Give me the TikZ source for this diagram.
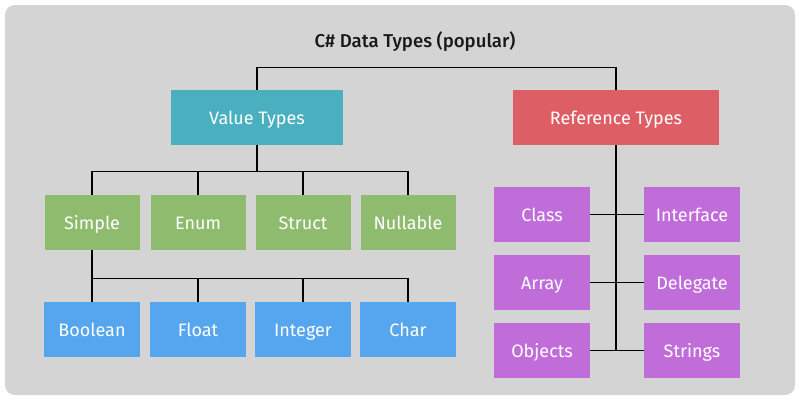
\documentclass[tikz,border=0pt]{standalone}
\usepackage{fontspec}
\setmainfont{Fira Sans}
\newfontfamily\titlefont{Fira Sans Medium}
\usetikzlibrary{positioning,calc}
\definecolor{bggray}{HTML}{D4D4D4}
\definecolor{valteal}{HTML}{4AAFBE}
\definecolor{refred}{HTML}{DD5F65}
\definecolor{kindgreen}{HTML}{8FBB6F}
\definecolor{simpleblue}{HTML}{55A6EE}
\definecolor{refpurple}{HTML}{C06DDA}
\tikzstyle{tbox} = [minimum height=55pt, inner sep=0pt, text height=17pt, text depth=4pt, text=white, font=\fontsize{18}{20}\selectfont]
\tikzstyle{valbox} = [tbox, fill=valteal, minimum width=172pt]
\tikzstyle{refbox} = [tbox, fill=refred, minimum width=206pt]
\tikzstyle{kindbox} = [tbox, fill=kindgreen, minimum width=95pt]
\tikzstyle{simplebox} = [tbox, fill=simpleblue, minimum width=96pt]
\tikzstyle{objbox} = [tbox, fill=refpurple, minimum width=96pt]
\tikzstyle{tlink} = [draw, line width=1.3pt, black]
\newcommand{\typelink}[3]{% #1: parent node; #2: child node; #3: drop to the bus
  \draw[tlink] (#1.south) -- ++(0,#3) -| (#2.north);
}

\begin{document}
\begin{tikzpicture}[x=1pt, y=-1pt]
        % canvas
        \useasboundingbox (0,0) rectangle (800,400);
        \fill[white] (0,0) rectangle (800,400);
        \fill[bggray, rounded corners=10pt] (5,5) rectangle (795,395);
        \node[font=\titlefont\fontsize{18.6}{21}\selectfont, text=black!90] (title) at (415,42) {C\# Data Types (popular)};
        % main kinds
        \node[valbox] (vt) at (257,117.5) {Value Types};
        \node[refbox] (rt) at (616,117.5) {Reference Types};
        \draw[tlink] (vt.north) -- ++(0,-22) -| (rt.north);
        % value types
        \node[kindbox] (simple) at (92,222.5) {Simple};
        \node[kindbox] (enum) at (198,222.5) {Enum};
        \node[kindbox] (struct) at (303,222.5) {Struct};
        \node[kindbox] (nullable) at (408,222.5) {Nullable};
        \foreach \n in {simple,enum,struct,nullable} { \typelink{vt}{\n}{26} }
        % simple types
        \node[simplebox] (boolean) at (92,329.5) {Boolean};
        \node[simplebox] (float) at (198,329.5) {Float};
        \node[simplebox] (integer) at (303,329.5) {Integer};
        \node[simplebox] (char) at (408,329.5) {Char};
        \foreach \n in {boolean,float,integer,char} { \typelink{simple}{\n}{28} }
        % reference types
        \node[objbox] (class) at (542,214.5) {Class};
        \node[objbox] (array) at (542,282.5) {Array};
        \node[objbox] (objects) at (542,350.5) {Objects};
        \node[objbox] (iface) at (692,214.5) {Interface};
        \node[objbox] (delegate) at (692,282.5) {Delegate};
        \node[objbox] (strings) at (692,350.5) {Strings};
        \draw[tlink] (rt.south) -- (rt.south |- objects.east);
        \draw[tlink] (class.east) -- (iface.west);
        \draw[tlink] (array.east) -- (delegate.west);
        \draw[tlink] (objects.east) -- (strings.west);
      \end{tikzpicture}
\end{document}
